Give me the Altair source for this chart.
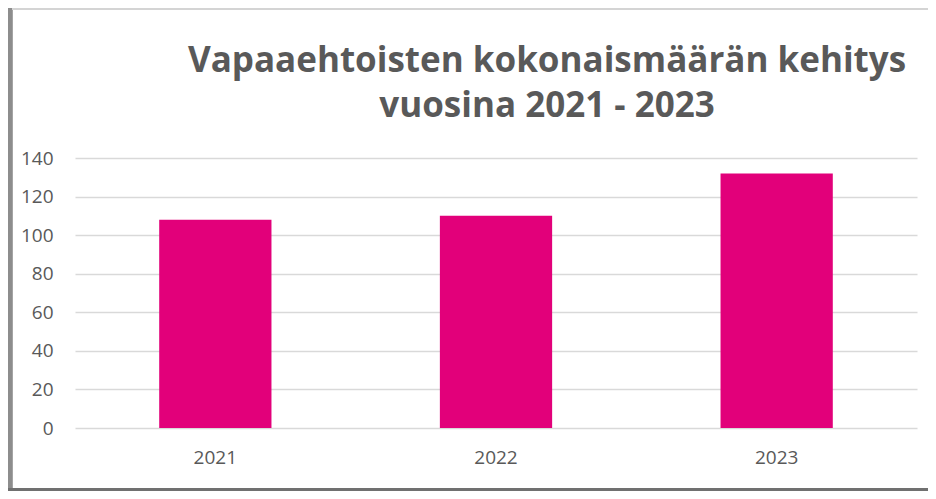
import altair as alt
import pandas as pd

years = ["2021", "2022", "2023"]
values = [108, 110, 132]
y_ticks = [0, 20, 40, 60, 80, 100, 120, 140]
title_lines = ["Vapaaehtoisten kokonaismäärän kehitys", "vuosina 2021 - 2023"]

df = pd.DataFrame({"year": years, "value": values})

FONT = "Open Sans"
GREY = "#595959"

bars = alt.Chart(df).mark_bar(color="#E2007A").encode(
    x=alt.X("year:N", sort=years, title=None,
            scale=alt.Scale(paddingInner=0.6, paddingOuter=0.3),
            axis=alt.Axis(labelAngle=0, labelFont=FONT, labelFontSize=19,
                          labelColor=GREY, labelPadding=20, ticks=False,
                          domain=False, grid=False)),
    y=alt.Y("value:Q", title=None,
            scale=alt.Scale(domain=[0, 140], nice=False),
            axis=alt.Axis(values=y_ticks, labelFont=FONT, labelFontSize=19,
                          labelColor=GREY, labelPadding=22, ticks=False,
                          domain=False, grid=True, gridColor="#d9d9d9",
                          gridWidth=1.5)),
)

# decorative chart frame (shadowed border like the original)
frame_left = alt.Chart(df).mark_rule(color="#8c8c8c", strokeWidth=5, opacity=0.8).encode(
    x=alt.value(-65), y=alt.value(-150), y2=alt.value(332))
frame_bottom = alt.Chart(df).mark_rule(color="#707070", strokeWidth=4).encode(
    x=alt.value(-67), x2=alt.value(853), y=alt.value(332))
frame_top = alt.Chart(df).mark_rule(color="#d4d4d4", strokeWidth=2).encode(
    x=alt.value(-63), x2=alt.value(853), y=alt.value(-149))

chart = alt.layer(frame_left, frame_bottom, frame_top, bars).properties(
    width=842,
    height=270,
    padding={"left": 67, "top": 150, "right": 11, "bottom": 63},
    autosize=alt.AutoSizeParams(type="none"),
    title=alt.TitleParams(title_lines, font=FONT, fontSize=35, fontWeight="bold",
                          color=GREY, anchor="middle", frame="group", dx=51,
                          offset=-118, lineHeight=45),
).configure_view(stroke=None)

chart.save("out.html", embed_options={"renderer": "svg", "actions": False})
